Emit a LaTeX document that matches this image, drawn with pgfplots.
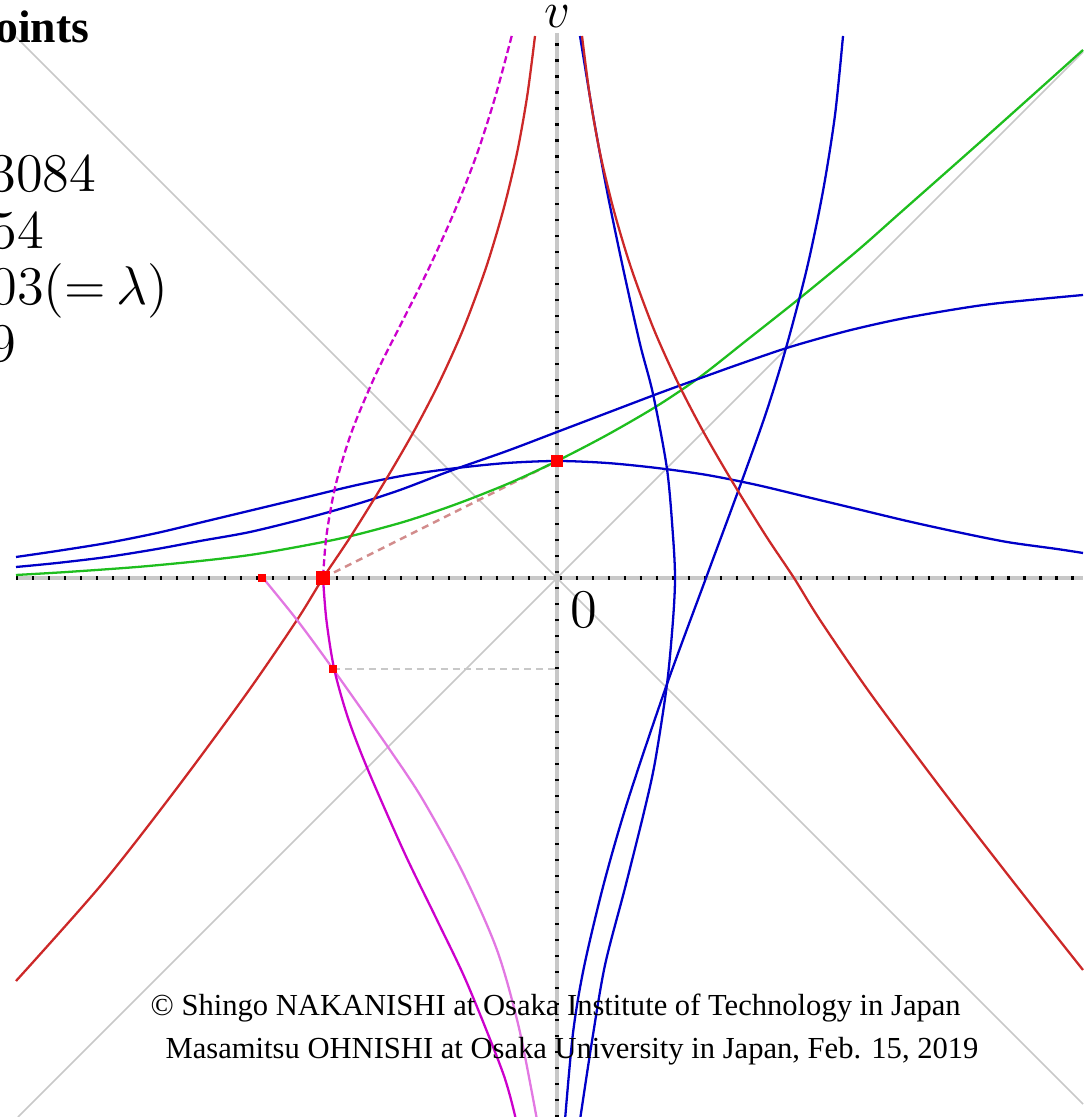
\RequirePackage{fix-cm}
\documentclass[border=0pt]{standalone}
\usepackage{fontspec}
\setmainfont{Liberation Serif}
\usepackage{pgfplots}
\pgfplotsset{compat=1.18}
\definecolor{cred}{RGB}{204,40,40}
\definecolor{cblue}{RGB}{0,0,200}
\definecolor{cgreen}{RGB}{30,190,30}
\definecolor{cmag}{RGB}{204,0,204}
\definecolor{clmag}{RGB}{226,120,226}
\definecolor{cgray}{RGB}{200,200,200}
\definecolor{cpink}{RGB}{210,140,140}
\definecolor{cpt}{RGB}{255,0,0}
\begin{document}
\begin{tikzpicture}
\begin{axis}[x=1cm,y=1cm,xmin=-5.57,xmax=5.26,ymin=-5.39,ymax=5.78,hide axis,clip=false]
\coordinate (BL) at (axis cs:-5.57,-5.39);
\coordinate (TR) at (axis cs:5.26,5.78);
% diagonals
\addplot[cgray,line width=0.45pt] coordinates {(-5.39,-5.39) (5.26,5.26)};
\addplot[cgray,line width=0.45pt] coordinates {(-5.41,5.41) (5.26,-5.26)};
% axes
\addplot[cgray,line width=0.9pt] coordinates {(-5.41,0) (5.26,0)};
\addplot[black,line width=0.9pt,dash pattern=on 0.6pt off 3.95pt] coordinates {(-5.41,0) (5.26,0)};
\addplot[cgray,line width=0.9pt] coordinates {(0,-5.39) (0,5.45)};
\addplot[black,line width=0.9pt,dash pattern=on 0.6pt off 3.95pt] coordinates {(0,-5.39) (0,5.45)};
% helper dashed lines
\addplot[cgray,line width=0.7pt,dash pattern=on 2pt off 1.4pt] coordinates {(-2.24,-0.91) (0,-0.91)};
\addplot[cpink,line width=0.7pt,dash pattern=on 2pt off 1.5pt] coordinates {(-2.34,0) (0,1.17)};
% green
\addplot[cgreen,line width=0.65pt,smooth] coordinates {(-5.41,0.03) (-4.9,0.06) (-4.2,0.11) (-3.57,0.17) (-3.07,0.23) (-2.6,0.31) (-2.1,0.41) (-1.57,0.55) (-1.2,0.67) (-0.87,0.79) (-0.45,0.96) (0,1.17) (0.5,1.43) (1.0,1.72) (1.43,2.01) (1.9,2.38) (2.43,2.80) (3.0,3.27) (3.43,3.65) (4.3,4.42) (5.26,5.28)};
% blue bell
\addplot[cblue,line width=0.65pt,smooth] coordinates {(-5.41,0.21) (-5.0,0.27) (-4.5,0.35) (-4.0,0.45) (-3.5,0.57) (-3.0,0.69) (-2.5,0.81) (-2.0,0.93) (-1.5,1.03) (-1.0,1.10) (-0.5,1.15) (0,1.17) (0.5,1.15) (1.0,1.10) (1.5,1.03) (2.0,0.93) (2.5,0.81) (3.0,0.69) (3.5,0.57) (4.0,0.46) (4.5,0.36) (5.0,0.29) (5.26,0.25)};
% blue rising
\addplot[cblue,line width=0.65pt,smooth] coordinates {(-5.41,0.11) (-5.0,0.15) (-4.5,0.21) (-4.0,0.29) (-3.57,0.37) (-3.07,0.46) (-2.5,0.60) (-2.0,0.74) (-1.57,0.88) (-1.07,1.07) (-0.5,1.27) (0,1.46) (0.5,1.65) (1.0,1.84) (1.3,1.95) (1.8,2.13) (2.33,2.31) (2.9,2.47) (3.43,2.59) (4.0,2.69) (4.43,2.75) (5.26,2.83)};
% blue C1
\addplot[cblue,line width=0.65pt,smooth] coordinates {(2.86,5.42) (2.78,4.63) (2.66,3.87) (2.50,3.10) (2.29,2.30) (2.09,1.65) (1.83,0.92) (1.49,0.0) (1.10,-1.06) (0.71,-2.22) (0.47,-3.05) (0.27,-3.89) (0.16,-4.55) (0.08,-5.42)};
% blue C2
\addplot[cblue,line width=0.65pt,smooth] coordinates {(0.23,5.42) (0.36,4.63) (0.50,3.87) (0.66,3.10) (0.83,2.34) (0.96,1.84) (1.10,1.09) (1.16,0.42) (1.18,0.0) (1.16,-0.42) (1.10,-1.06) (0.98,-1.84) (0.87,-2.34) (0.68,-3.10) (0.48,-3.87) (0.35,-4.63) (0.23,-5.42)};
% red R1
\addplot[cred,line width=0.65pt,smooth] coordinates {(-0.22,5.42) (-0.298,4.82) (-0.40,4.25) (-0.537,3.68) (-0.711,3.10) (-0.937,2.49) (-1.18,1.95) (-1.435,1.46) (-1.725,0.96) (-2.06,0.42) (-2.34,0.0) (-2.60,-0.42) (-3.10,-1.15) (-3.815,-2.12) (-4.55,-3.06) (-5.41,-4.03)};
% red R2
\addplot[cred,line width=0.65pt,smooth] coordinates {(0.25,5.42) (0.328,4.82) (0.43,4.25) (0.567,3.68) (0.741,3.10) (0.967,2.49) (1.21,1.95) (1.465,1.46) (1.755,0.96) (2.09,0.42) (2.37,0.0) (2.63,-0.42) (3.13,-1.15) (3.845,-2.11) (4.58,-3.06) (5.26,-3.92)};
% magenta dashed M1
\addplot[cmag,line width=0.65pt,smooth,dash pattern=on 2pt off 1pt] coordinates {(-0.453,5.42) (-0.615,4.82) (-0.797,4.25) (-1.019,3.68) (-1.28,3.10) (-1.565,2.53) (-1.815,2.03) (-2.054,1.46) (-2.216,0.92) (-2.306,0.42) (-2.34,0.0)};
% light magenta M3
\addplot[clmag,line width=0.65pt,smooth] coordinates {(-2.94,0.0) (-2.60,-0.42) (-2.24,-0.91) (-1.67,-1.72) (-1.34,-2.22) (-0.94,-2.95) (-0.60,-3.72) (-0.38,-4.50) (-0.20,-5.42)};
% magenta solid M2
\addplot[cmag,line width=0.65pt,smooth] coordinates {(-2.34,0.0) (-2.306,-0.42) (-2.228,-0.91) (-2.09,-1.40) (-1.89,-1.92) (-1.525,-2.75) (-1.20,-3.42) (-0.90,-4.05) (-0.54,-4.95) (-0.41,-5.42)};
% red points
\addplot[only marks,mark=square*,mark size=1.4pt,color=cpt] coordinates {(0,1.17)};
\addplot[only marks,mark=square*,mark size=1.7pt,color=cpt] coordinates {(-2.34,0)};
\addplot[only marks,mark=square*,mark size=1.0pt,color=cpt] coordinates {(-2.95,0) (-2.24,-0.91)};
% texts
\node[anchor=base east,inner sep=0,font=\fontsize{13}{15}\selectfont\bfseries] at (axis cs:-4.67,5.35) {Points};
\node[anchor=base west,inner sep=0,font=\fontsize{15.5}{18}\selectfont] at (axis cs:-5.68,3.86) {$3084$};
\node[anchor=base west,inner sep=0,font=\fontsize{15.5}{18}\selectfont] at (axis cs:-5.67,3.29) {$54$};
\node[anchor=base west,inner sep=0,font=\fontsize{15.5}{18}\selectfont] at (axis cs:-5.67,2.73) {$03(=\mkern-1.5mu\lambda)$};
\node[anchor=base west,inner sep=0,font=\fontsize{15.5}{18}\selectfont] at (axis cs:-5.68,2.16) {$9$};
\node[anchor=base,inner sep=0,font=\fontsize{14.5}{17}\selectfont] at (axis cs:0,5.50) {$v$};
\node[anchor=base west,inner sep=0,font=\fontsize{15.5}{18}\selectfont] at (axis cs:0.13,-0.50) {$0$};
\node[anchor=base west,inner sep=0,font=\fontsize{8.7}{10}\selectfont] at (axis cs:-4.07,-4.37) {© Shingo NAKANISHI at Osaka Institute of Technology in Japan};
\node[anchor=base west,inner sep=0,font=\fontsize{8.7}{10}\selectfont] at (axis cs:-3.92,-4.80) {Masamitsu OHNISHI at Osaka University in Japan, Feb. 15, 2019};
\end{axis}
\pgfresetboundingbox
\path[use as bounding box] (BL) rectangle (TR);
\end{tikzpicture}
\end{document}
